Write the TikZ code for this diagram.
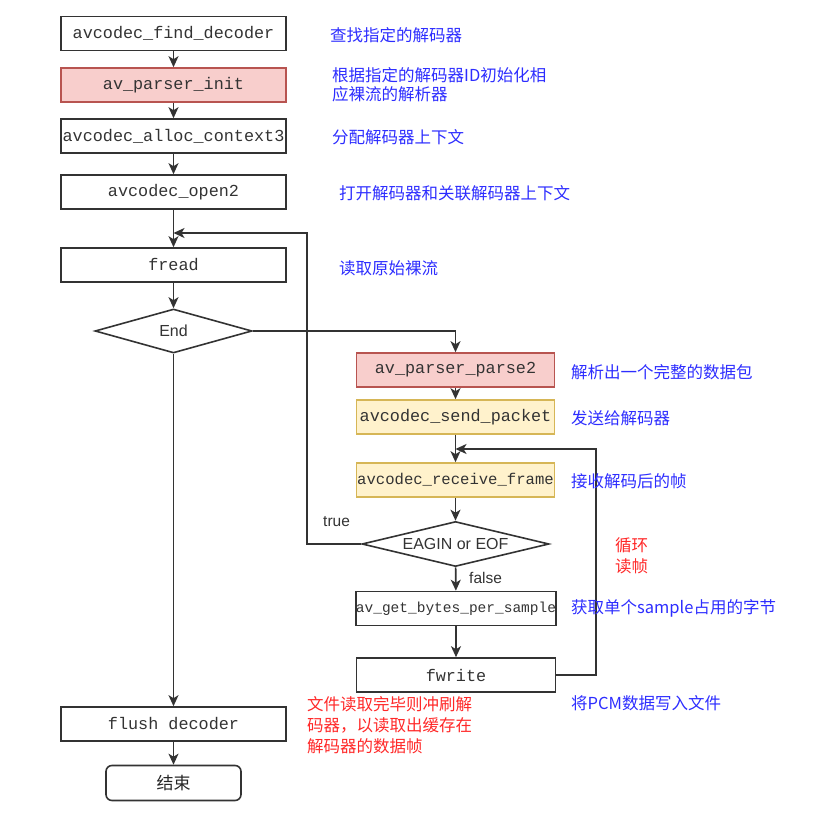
\documentclass[tikz,border=0pt]{standalone}
\usepackage{fontspec}
\setmainfont{Liberation Sans}
\setmonofont{Liberation Mono}
\newfontfamily\cjk{Noto Sans CJK SC}
\usetikzlibrary{shapes.geometric,arrows.meta}
\definecolor{lblue}{RGB}{45,45,255}
\definecolor{lred}{RGB}{255,40,40}
\definecolor{pinkf}{HTML}{F8CECC}
\definecolor{pinks}{HTML}{B85450}
\definecolor{yelf}{HTML}{FFF2CC}
\definecolor{yels}{HTML}{D6B656}
\definecolor{lin}{HTML}{333333}
\tikzset{
  box/.style={draw=lin,line width=1.6pt,minimum height=34pt,minimum width=225pt,inner sep=0pt,
     font=\ttfamily\fontsize{16.8}{16}\selectfont,text=lin},
  rbox/.style={box,minimum width=198pt},
  pinkbox/.style={fill=pinkf,draw=pinks},
  yelbox/.style={fill=yelf,draw=yels},
  dia/.style={draw=lin,line width=1.6pt,diamond,shape aspect=4,inner sep=0pt,font=\fontsize{16}{15}\selectfont,text=lin},
  arr/.style={draw=lin,line width=1.6pt,-{Stealth[length=11pt,width=10pt,inset=3pt]}},
  bnote/.style={anchor=west,text=lblue,font=\cjk\fontsize{16.5}{19}\selectfont,inner sep=0pt,align=left},
  rnote/.style={anchor=west,text=lred,font=\cjk\fontsize{16.5}{21}\selectfont,inner sep=0pt,align=left},
  lab/.style={font=\fontsize{15.5}{15}\selectfont,text=lin,inner sep=0pt}
}
\begin{document}
\begin{tikzpicture}[x=1pt,y=-1pt]
\useasboundingbox (0,0) rectangle (825,818);
% left column
\node[box] (n1) at (173.5,33.5) {avcodec\_find\_decoder};
\node[box,pinkbox] (n2) at (173.5,85) {av\_parser\_init};
\node[box] (n3) at (173.5,136) {avcodec\_alloc\_context3};
\node[box] (n4) at (173.5,192) {avcodec\_open2};
\node[box] (n5) at (173.5,265) {fread};
\node[dia,minimum width=157pt,minimum height=44pt] (e) at (173.5,331) {End};
\node[box] (fl) at (173.5,724) {flush decoder};
\node[draw=lin,line width=1.6pt,rounded corners=6pt,minimum width=135pt,minimum height=35pt,
  font=\cjk\fontsize{17}{17}\selectfont,text=black!85] (jb) at (173.5,783) {结束};
% right column
\node[rbox,pinkbox] (p2) at (455.5,370) {av\_parser\_parse2};
\node[rbox,yelbox] (sp) at (455.5,417) {avcodec\_send\_packet};
\node[rbox,yelbox,font=\ttfamily\fontsize{15.6}{15}\selectfont] (rf) at (455.5,480) {avcodec\_receive\_frame};
\node[dia,minimum width=187pt,minimum height=45pt] (eg) at (455.5,544) {EAGIN or EOF};
\node[rbox,minimum width=199pt,font=\ttfamily\fontsize{14.5}{15}\selectfont] (gb) at (456,608.5) {av\_get\_bytes\_per\_sample};
\node[rbox,minimum width=199pt] (fw) at (456,675) {fwrite};
% connectors
\draw[arr] (n1) -- (n2);
\draw[arr] (n2) -- (n3);
\draw[arr] (n3) -- (n4);
\draw[arr] (n4) -- (n5);
\draw[arr] (n5) -- (e);
\draw[arr] (e.east) -| (p2.north);
\draw[arr] (e.south) -- (fl.north);
\draw[arr] (fl) -- (jb);
\draw[arr] (p2) -- (sp);
\draw[arr] (sp) -- (rf);
\draw[arr] (rf) -- (eg);
\draw[arr] (eg) -- (gb);
\draw[arr] (gb) -- (fw);
\coordinate (lt) at (307,233);
\coordinate (lj) at (173.5,233);
\draw[arr] (eg.west) -| (lt) -- (lj);
\coordinate (rt) at (596,449);
\coordinate (rj) at (455.5,449);
\draw[arr] (fw.east) -| (rt) -- (rj);
% labels
\node[lab,anchor=west] (tl) at (323,522) {true};
\node[lab,anchor=west] (fl2) at (469,578) {false};
% notes
\node[bnote] (t1) at (330,35) {查找指定的解码器};
\node[bnote] (t2) at (332,85) {根据指定的解码器ID初始化相\\应裸流的解析器};
\node[bnote] (t3) at (332,137) {分配解码器上下文};
\node[bnote] (t4) at (339,193) {打开解码器和关联解码器上下文};
\node[bnote] (t5) at (339,268) {读取原始裸流};
\node[bnote] (t6) at (571,372) {解析出一个完整的数据包};
\node[bnote] (t7) at (571,418) {发送给解码器};
\node[bnote] (t8) at (571,481) {接收解码后的帧};
\node[rnote] (t9) at (615,556) {循环\\读帧};
\node[bnote] (t10) at (571,608) {获取单个sample占用的字节};
\node[bnote] (t11) at (571,703) {将PCM数据写入文件};
\node[rnote] (t12) at (307,725) {文件读取完毕则冲刷解\\码器，以读取出缓存在\\解码器的数据帧};
\end{tikzpicture}
\end{document}
